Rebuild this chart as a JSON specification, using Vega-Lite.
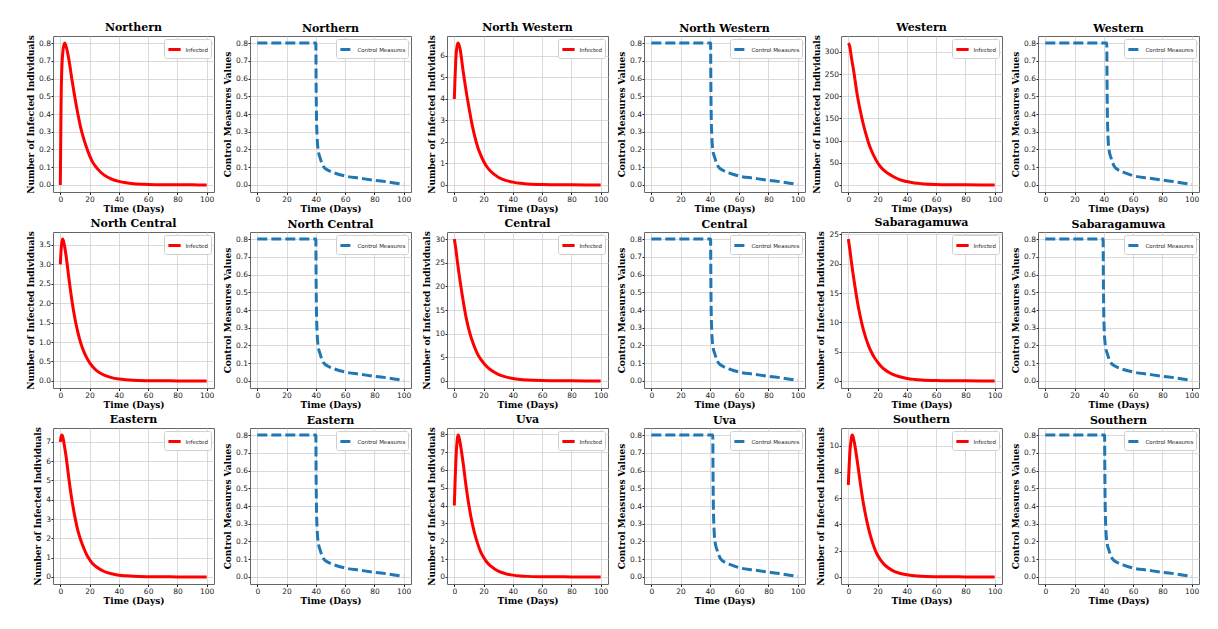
{
"$schema":"https://vega.github.io/schema/vega-lite/v6.json",
"padding":{"left":26,"top":21,"right":5,"bottom":5},
"background":"white",
"datasets":{
"inf":[
{"r":"Northern","t":0,"v":0},{"r":"Northern","t":0.5,"v":0.45},{"r":"Northern","t":1,"v":0.65},{"r":"Northern","t":2,"v":0.77},{"r":"Northern","t":3,"v":0.8},{"r":"Northern","t":4,"v":0.78},{"r":"Northern","t":6,"v":0.7},{"r":"Northern","t":8,"v":0.59},{"r":"Northern","t":10,"v":0.49},{"r":"Northern","t":12,"v":0.4},{"r":"Northern","t":14,"v":0.32},{"r":"Northern","t":16,"v":0.26},{"r":"Northern","t":18,"v":0.21},{"r":"Northern","t":20,"v":0.165},{"r":"Northern","t":22,"v":0.13},{"r":"Northern","t":25,"v":0.095},{"r":"Northern","t":30,"v":0.055},{"r":"Northern","t":35,"v":0.033},{"r":"Northern","t":40,"v":0.02},{"r":"Northern","t":45,"v":0.012},{"r":"Northern","t":50,"v":0.007},{"r":"Northern","t":60,"v":0.003},{"r":"Northern","t":70,"v":0.001},{"r":"Northern","t":80,"v":0.0005},{"r":"Northern","t":90,"v":0.0002},{"r":"Northern","t":100,"v":0.0001},
{"r":"North Western","t":0,"v":4.0},{"r":"North Western","t":0.5,"v":5.0},{"r":"North Western","t":1,"v":5.8},{"r":"North Western","t":2,"v":6.5},{"r":"North Western","t":2.7,"v":6.6},{"r":"North Western","t":4,"v":6.3},{"r":"North Western","t":6,"v":5.3},{"r":"North Western","t":8,"v":4.4},{"r":"North Western","t":10,"v":3.6},{"r":"North Western","t":12,"v":2.85},{"r":"North Western","t":14,"v":2.25},{"r":"North Western","t":16,"v":1.75},{"r":"North Western","t":18,"v":1.4},{"r":"North Western","t":20,"v":1.1},{"r":"North Western","t":22,"v":0.87},{"r":"North Western","t":25,"v":0.62},{"r":"North Western","t":30,"v":0.36},{"r":"North Western","t":35,"v":0.21},{"r":"North Western","t":40,"v":0.13},{"r":"North Western","t":45,"v":0.075},{"r":"North Western","t":50,"v":0.045},{"r":"North Western","t":60,"v":0.015},{"r":"North Western","t":70,"v":0.005},{"r":"North Western","t":80,"v":0.002},{"r":"North Western","t":90,"v":0.0007},{"r":"North Western","t":100,"v":0.0002},
{"r":"Western","t":0,"v":320},{"r":"Western","t":1,"v":312},{"r":"Western","t":2,"v":290},{"r":"Western","t":4,"v":250},{"r":"Western","t":6,"v":205},{"r":"Western","t":8,"v":170},{"r":"Western","t":10,"v":140},{"r":"Western","t":12,"v":115},{"r":"Western","t":14,"v":93},{"r":"Western","t":16,"v":76},{"r":"Western","t":18,"v":62},{"r":"Western","t":20,"v":50},{"r":"Western","t":22,"v":41},{"r":"Western","t":25,"v":31},{"r":"Western","t":30,"v":20},{"r":"Western","t":35,"v":12},{"r":"Western","t":40,"v":7.5},{"r":"Western","t":45,"v":4.5},{"r":"Western","t":50,"v":2.8},{"r":"Western","t":60,"v":1.1},{"r":"Western","t":70,"v":0.4},{"r":"Western","t":80,"v":0.15},{"r":"Western","t":90,"v":0.06},{"r":"Western","t":100,"v":0.02},
{"r":"North Central","t":0,"v":3.0},{"r":"North Central","t":0.5,"v":3.35},{"r":"North Central","t":1,"v":3.55},{"r":"North Central","t":1.5,"v":3.65},{"r":"North Central","t":2,"v":3.62},{"r":"North Central","t":3,"v":3.45},{"r":"North Central","t":4,"v":3.2},{"r":"North Central","t":6,"v":2.6},{"r":"North Central","t":8,"v":2.05},{"r":"North Central","t":10,"v":1.6},{"r":"North Central","t":12,"v":1.25},{"r":"North Central","t":14,"v":0.97},{"r":"North Central","t":16,"v":0.76},{"r":"North Central","t":18,"v":0.6},{"r":"North Central","t":20,"v":0.47},{"r":"North Central","t":22,"v":0.37},{"r":"North Central","t":25,"v":0.26},{"r":"North Central","t":30,"v":0.15},{"r":"North Central","t":35,"v":0.085},{"r":"North Central","t":40,"v":0.05},{"r":"North Central","t":45,"v":0.03},{"r":"North Central","t":50,"v":0.017},{"r":"North Central","t":60,"v":0.006},{"r":"North Central","t":70,"v":0.002},{"r":"North Central","t":80,"v":0.0008},{"r":"North Central","t":90,"v":0.0003},{"r":"North Central","t":100,"v":0.0001},
{"r":"Central","t":0,"v":30},{"r":"Central","t":1,"v":28},{"r":"Central","t":2,"v":25.5},{"r":"Central","t":4,"v":21},{"r":"Central","t":6,"v":17},{"r":"Central","t":8,"v":13.5},{"r":"Central","t":10,"v":10.8},{"r":"Central","t":12,"v":8.7},{"r":"Central","t":14,"v":7},{"r":"Central","t":16,"v":5.6},{"r":"Central","t":18,"v":4.6},{"r":"Central","t":20,"v":3.8},{"r":"Central","t":22,"v":3.1},{"r":"Central","t":25,"v":2.3},{"r":"Central","t":30,"v":1.4},{"r":"Central","t":35,"v":0.85},{"r":"Central","t":40,"v":0.52},{"r":"Central","t":45,"v":0.32},{"r":"Central","t":50,"v":0.2},{"r":"Central","t":60,"v":0.07},{"r":"Central","t":70,"v":0.03},{"r":"Central","t":80,"v":0.01},{"r":"Central","t":90,"v":0.004},{"r":"Central","t":100,"v":0.002},
{"r":"Sabaragamuwa","t":0,"v":24.2},{"r":"Sabaragamuwa","t":1,"v":22.5},{"r":"Sabaragamuwa","t":2,"v":20.5},{"r":"Sabaragamuwa","t":4,"v":17},{"r":"Sabaragamuwa","t":6,"v":13.8},{"r":"Sabaragamuwa","t":8,"v":11.2},{"r":"Sabaragamuwa","t":10,"v":9},{"r":"Sabaragamuwa","t":12,"v":7.3},{"r":"Sabaragamuwa","t":14,"v":5.9},{"r":"Sabaragamuwa","t":16,"v":4.8},{"r":"Sabaragamuwa","t":18,"v":3.9},{"r":"Sabaragamuwa","t":20,"v":3.2},{"r":"Sabaragamuwa","t":22,"v":2.6},{"r":"Sabaragamuwa","t":25,"v":1.9},{"r":"Sabaragamuwa","t":30,"v":1.15},{"r":"Sabaragamuwa","t":35,"v":0.7},{"r":"Sabaragamuwa","t":40,"v":0.42},{"r":"Sabaragamuwa","t":45,"v":0.26},{"r":"Sabaragamuwa","t":50,"v":0.16},{"r":"Sabaragamuwa","t":60,"v":0.06},{"r":"Sabaragamuwa","t":70,"v":0.02},{"r":"Sabaragamuwa","t":80,"v":0.008},{"r":"Sabaragamuwa","t":90,"v":0.003},{"r":"Sabaragamuwa","t":100,"v":0.001},
{"r":"Eastern","t":0,"v":7.0},{"r":"Eastern","t":0.5,"v":7.25},{"r":"Eastern","t":1,"v":7.35},{"r":"Eastern","t":1.5,"v":7.3},{"r":"Eastern","t":2,"v":7.15},{"r":"Eastern","t":3,"v":6.7},{"r":"Eastern","t":4,"v":6.2},{"r":"Eastern","t":6,"v":5.0},{"r":"Eastern","t":8,"v":3.95},{"r":"Eastern","t":10,"v":3.1},{"r":"Eastern","t":12,"v":2.4},{"r":"Eastern","t":14,"v":1.9},{"r":"Eastern","t":16,"v":1.5},{"r":"Eastern","t":18,"v":1.15},{"r":"Eastern","t":20,"v":0.9},{"r":"Eastern","t":22,"v":0.7},{"r":"Eastern","t":25,"v":0.5},{"r":"Eastern","t":30,"v":0.28},{"r":"Eastern","t":35,"v":0.16},{"r":"Eastern","t":40,"v":0.09},{"r":"Eastern","t":45,"v":0.055},{"r":"Eastern","t":50,"v":0.03},{"r":"Eastern","t":60,"v":0.01},{"r":"Eastern","t":70,"v":0.004},{"r":"Eastern","t":80,"v":0.0015},{"r":"Eastern","t":90,"v":0.0005},{"r":"Eastern","t":100,"v":0.0002},
{"r":"Uva","t":0,"v":4.0},{"r":"Uva","t":0.5,"v":5.3},{"r":"Uva","t":1,"v":6.4},{"r":"Uva","t":2,"v":7.7},{"r":"Uva","t":2.5,"v":7.95},{"r":"Uva","t":3,"v":7.9},{"r":"Uva","t":4,"v":7.5},{"r":"Uva","t":6,"v":6.4},{"r":"Uva","t":8,"v":5.1},{"r":"Uva","t":10,"v":4.0},{"r":"Uva","t":12,"v":3.1},{"r":"Uva","t":14,"v":2.4},{"r":"Uva","t":16,"v":1.85},{"r":"Uva","t":18,"v":1.4},{"r":"Uva","t":20,"v":1.1},{"r":"Uva","t":22,"v":0.85},{"r":"Uva","t":25,"v":0.6},{"r":"Uva","t":30,"v":0.32},{"r":"Uva","t":35,"v":0.18},{"r":"Uva","t":40,"v":0.1},{"r":"Uva","t":45,"v":0.055},{"r":"Uva","t":50,"v":0.03},{"r":"Uva","t":60,"v":0.01},{"r":"Uva","t":70,"v":0.004},{"r":"Uva","t":80,"v":0.0015},{"r":"Uva","t":90,"v":0.0005},{"r":"Uva","t":100,"v":0.0002},
{"r":"Southern","t":0,"v":7.0},{"r":"Southern","t":0.5,"v":8.3},{"r":"Southern","t":1,"v":9.4},{"r":"Southern","t":2,"v":10.5},{"r":"Southern","t":2.5,"v":10.8},{"r":"Southern","t":3,"v":10.75},{"r":"Southern","t":4,"v":10.3},{"r":"Southern","t":6,"v":8.9},{"r":"Southern","t":8,"v":7.3},{"r":"Southern","t":10,"v":5.8},{"r":"Southern","t":12,"v":4.6},{"r":"Southern","t":14,"v":3.6},{"r":"Southern","t":16,"v":2.8},{"r":"Southern","t":18,"v":2.15},{"r":"Southern","t":20,"v":1.65},{"r":"Southern","t":22,"v":1.3},{"r":"Southern","t":25,"v":0.9},{"r":"Southern","t":30,"v":0.5},{"r":"Southern","t":35,"v":0.28},{"r":"Southern","t":40,"v":0.16},{"r":"Southern","t":45,"v":0.09},{"r":"Southern","t":50,"v":0.05},{"r":"Southern","t":60,"v":0.017},{"r":"Southern","t":70,"v":0.006},{"r":"Southern","t":80,"v":0.002},{"r":"Southern","t":90,"v":0.0007},{"r":"Southern","t":100,"v":0.0002}
],
"ctl":[
{"r":"Northern","t":0,"v":0.8},{"r":"Northern","t":40,"v":0.8},{"r":"Northern","t":40.15,"v":0.6},{"r":"Northern","t":40.4,"v":0.4},{"r":"Northern","t":40.8,"v":0.28},{"r":"Northern","t":41.5,"v":0.2},{"r":"Northern","t":43,"v":0.15},{"r":"Northern","t":45.5,"v":0.1},{"r":"Northern","t":49,"v":0.08},{"r":"Northern","t":52.5,"v":0.068},{"r":"Northern","t":60,"v":0.05},{"r":"Northern","t":70,"v":0.038},{"r":"Northern","t":80,"v":0.026},{"r":"Northern","t":90,"v":0.016},{"r":"Northern","t":100,"v":0.002},
{"r":"North Western","t":0,"v":0.8},{"r":"North Western","t":40.5,"v":0.8},{"r":"North Western","t":40.65,"v":0.6},{"r":"North Western","t":40.9,"v":0.4},{"r":"North Western","t":41.3,"v":0.28},{"r":"North Western","t":42,"v":0.2},{"r":"North Western","t":43.5,"v":0.15},{"r":"North Western","t":46,"v":0.1},{"r":"North Western","t":49.5,"v":0.08},{"r":"North Western","t":53,"v":0.068},{"r":"North Western","t":60,"v":0.05},{"r":"North Western","t":70,"v":0.038},{"r":"North Western","t":80,"v":0.026},{"r":"North Western","t":90,"v":0.016},{"r":"North Western","t":100,"v":0.002},
{"r":"Western","t":0,"v":0.8},{"r":"Western","t":42,"v":0.8},{"r":"Western","t":42.15,"v":0.6},{"r":"Western","t":42.4,"v":0.4},{"r":"Western","t":42.8,"v":0.28},{"r":"Western","t":43.5,"v":0.2},{"r":"Western","t":45,"v":0.15},{"r":"Western","t":47.5,"v":0.1},{"r":"Western","t":51,"v":0.08},{"r":"Western","t":54.5,"v":0.068},{"r":"Western","t":60,"v":0.052},{"r":"Western","t":70,"v":0.039},{"r":"Western","t":80,"v":0.027},{"r":"Western","t":90,"v":0.016},{"r":"Western","t":100,"v":0.002},
{"r":"North Central","t":0,"v":0.8},{"r":"North Central","t":40,"v":0.8},{"r":"North Central","t":40.15,"v":0.6},{"r":"North Central","t":40.4,"v":0.4},{"r":"North Central","t":40.8,"v":0.28},{"r":"North Central","t":41.5,"v":0.2},{"r":"North Central","t":43,"v":0.15},{"r":"North Central","t":45.5,"v":0.1},{"r":"North Central","t":49,"v":0.08},{"r":"North Central","t":52.5,"v":0.068},{"r":"North Central","t":60,"v":0.05},{"r":"North Central","t":70,"v":0.038},{"r":"North Central","t":80,"v":0.026},{"r":"North Central","t":90,"v":0.016},{"r":"North Central","t":100,"v":0.002},
{"r":"Central","t":0,"v":0.8},{"r":"Central","t":40.5,"v":0.8},{"r":"Central","t":40.65,"v":0.6},{"r":"Central","t":40.9,"v":0.4},{"r":"Central","t":41.3,"v":0.28},{"r":"Central","t":42,"v":0.2},{"r":"Central","t":43.5,"v":0.15},{"r":"Central","t":46,"v":0.1},{"r":"Central","t":49.5,"v":0.08},{"r":"Central","t":53,"v":0.068},{"r":"Central","t":60,"v":0.05},{"r":"Central","t":70,"v":0.038},{"r":"Central","t":80,"v":0.026},{"r":"Central","t":90,"v":0.016},{"r":"Central","t":100,"v":0.002},
{"r":"Sabaragamuwa","t":0,"v":0.8},{"r":"Sabaragamuwa","t":39.5,"v":0.8},{"r":"Sabaragamuwa","t":39.65,"v":0.6},{"r":"Sabaragamuwa","t":39.9,"v":0.4},{"r":"Sabaragamuwa","t":40.3,"v":0.28},{"r":"Sabaragamuwa","t":41,"v":0.2},{"r":"Sabaragamuwa","t":42.5,"v":0.15},{"r":"Sabaragamuwa","t":45,"v":0.1},{"r":"Sabaragamuwa","t":48.5,"v":0.08},{"r":"Sabaragamuwa","t":52,"v":0.068},{"r":"Sabaragamuwa","t":60,"v":0.05},{"r":"Sabaragamuwa","t":70,"v":0.038},{"r":"Sabaragamuwa","t":80,"v":0.026},{"r":"Sabaragamuwa","t":90,"v":0.016},{"r":"Sabaragamuwa","t":100,"v":0.002},
{"r":"Eastern","t":0,"v":0.8},{"r":"Eastern","t":40,"v":0.8},{"r":"Eastern","t":40.15,"v":0.6},{"r":"Eastern","t":40.4,"v":0.4},{"r":"Eastern","t":40.8,"v":0.28},{"r":"Eastern","t":41.5,"v":0.2},{"r":"Eastern","t":43,"v":0.15},{"r":"Eastern","t":45.5,"v":0.1},{"r":"Eastern","t":49,"v":0.08},{"r":"Eastern","t":52.5,"v":0.068},{"r":"Eastern","t":60,"v":0.05},{"r":"Eastern","t":70,"v":0.038},{"r":"Eastern","t":80,"v":0.026},{"r":"Eastern","t":90,"v":0.016},{"r":"Eastern","t":100,"v":0.002},
{"r":"Uva","t":0,"v":0.8},{"r":"Uva","t":42,"v":0.8},{"r":"Uva","t":42.15,"v":0.6},{"r":"Uva","t":42.4,"v":0.4},{"r":"Uva","t":42.8,"v":0.28},{"r":"Uva","t":43.5,"v":0.2},{"r":"Uva","t":45,"v":0.15},{"r":"Uva","t":47.5,"v":0.1},{"r":"Uva","t":51,"v":0.08},{"r":"Uva","t":54.5,"v":0.068},{"r":"Uva","t":60,"v":0.052},{"r":"Uva","t":70,"v":0.039},{"r":"Uva","t":80,"v":0.027},{"r":"Uva","t":90,"v":0.016},{"r":"Uva","t":100,"v":0.002},
{"r":"Southern","t":0,"v":0.8},{"r":"Southern","t":40.5,"v":0.8},{"r":"Southern","t":40.65,"v":0.6},{"r":"Southern","t":40.9,"v":0.4},{"r":"Southern","t":41.3,"v":0.28},{"r":"Southern","t":42,"v":0.2},{"r":"Southern","t":43.5,"v":0.15},{"r":"Southern","t":46,"v":0.1},{"r":"Southern","t":49.5,"v":0.08},{"r":"Southern","t":53,"v":0.068},{"r":"Southern","t":60,"v":0.05},{"r":"Southern","t":70,"v":0.038},{"r":"Southern","t":80,"v":0.026},{"r":"Southern","t":90,"v":0.016},{"r":"Southern","t":100,"v":0.002}
]
},
"columns":6,
"bounds":"flush",
"spacing":{"row":40,"column":36},
"resolve":{"scale":{"x":"independent","y":"independent","color":"independent"},"axis":{"x":"independent","y":"independent"},"legend":{"color":"independent"}},
"concat":[
{"title":"Northern","data":{"name":"inf"},"transform":[{"filter":"datum.r=='Northern'"}],"mark":{"type":"line","strokeWidth":3,"interpolate":"monotone"},
 "encoding":{"x":{"field":"t","type":"quantitative","title":"Time (Days)","scale":{"domain":[-5,105],"nice":false,"zero":false},"axis":{"values":[0,20,40,60,80,100]}},
 "y":{"field":"v","type":"quantitative","title":"Number of Infected Individuals","scale":{"domain":[-0.04,0.84],"nice":false,"zero":false},"axis":{"values":[0,0.1,0.2,0.3,0.4,0.5,0.6,0.7,0.8],"format":".1f"}},
 "color":{"datum":"Infected","type":"nominal","title":null,"scale":{"range":["#ff0000"]}}}},
{"title":"Northern","data":{"name":"ctl"},"transform":[{"filter":"datum.r=='Northern'"}],"mark":{"type":"line","strokeWidth":3,"strokeDash":[10,4],"interpolate":"monotone"},
 "encoding":{"x":{"field":"t","type":"quantitative","title":"Time (Days)","scale":{"domain":[-5,105],"nice":false,"zero":false},"axis":{"values":[0,20,40,60,80,100]}},
 "y":{"field":"v","type":"quantitative","title":"Control Measures Values","scale":{"domain":[-0.04,0.84],"nice":false,"zero":false},"axis":{"values":[0,0.1,0.2,0.3,0.4,0.5,0.6,0.7,0.8],"format":".1f"}},
 "color":{"datum":"Control Measures","type":"nominal","title":null,"scale":{"range":["#1f77b4"]},"legend":{"symbolDash":[10,4]}}}},
{"title":"North Western","data":{"name":"inf"},"transform":[{"filter":"datum.r=='North Western'"}],"mark":{"type":"line","strokeWidth":3,"interpolate":"monotone"},
 "encoding":{"x":{"field":"t","type":"quantitative","title":"Time (Days)","scale":{"domain":[-5,105],"nice":false,"zero":false},"axis":{"values":[0,20,40,60,80,100]}},
 "y":{"field":"v","type":"quantitative","title":"Number of Infected Individuals","scale":{"domain":[-0.33,6.93],"nice":false,"zero":false},"axis":{"values":[0,1,2,3,4,5,6]}},
 "color":{"datum":"Infected","type":"nominal","title":null,"scale":{"range":["#ff0000"]}}}},
{"title":"North Western","data":{"name":"ctl"},"transform":[{"filter":"datum.r=='North Western'"}],"mark":{"type":"line","strokeWidth":3,"strokeDash":[10,4],"interpolate":"monotone"},
 "encoding":{"x":{"field":"t","type":"quantitative","title":"Time (Days)","scale":{"domain":[-5,105],"nice":false,"zero":false},"axis":{"values":[0,20,40,60,80,100]}},
 "y":{"field":"v","type":"quantitative","title":"Control Measures Values","scale":{"domain":[-0.04,0.84],"nice":false,"zero":false},"axis":{"values":[0,0.1,0.2,0.3,0.4,0.5,0.6,0.7,0.8],"format":".1f"}},
 "color":{"datum":"Control Measures","type":"nominal","title":null,"scale":{"range":["#1f77b4"]},"legend":{"symbolDash":[10,4]}}}},
{"title":"Western","data":{"name":"inf"},"transform":[{"filter":"datum.r=='Western'"}],"mark":{"type":"line","strokeWidth":3,"interpolate":"monotone"},
 "encoding":{"x":{"field":"t","type":"quantitative","title":"Time (Days)","scale":{"domain":[-5,105],"nice":false,"zero":false},"axis":{"values":[0,20,40,60,80,100]}},
 "y":{"field":"v","type":"quantitative","title":"Number of Infected Individuals","scale":{"domain":[-16,336],"nice":false,"zero":false},"axis":{"values":[0,50,100,150,200,250,300]}},
 "color":{"datum":"Infected","type":"nominal","title":null,"scale":{"range":["#ff0000"]}}}},
{"title":"Western","data":{"name":"ctl"},"transform":[{"filter":"datum.r=='Western'"}],"mark":{"type":"line","strokeWidth":3,"strokeDash":[10,4],"interpolate":"monotone"},
 "encoding":{"x":{"field":"t","type":"quantitative","title":"Time (Days)","scale":{"domain":[-5,105],"nice":false,"zero":false},"axis":{"values":[0,20,40,60,80,100]}},
 "y":{"field":"v","type":"quantitative","title":"Control Measures Values","scale":{"domain":[-0.04,0.84],"nice":false,"zero":false},"axis":{"values":[0,0.1,0.2,0.3,0.4,0.5,0.6,0.7,0.8],"format":".1f"}},
 "color":{"datum":"Control Measures","type":"nominal","title":null,"scale":{"range":["#1f77b4"]},"legend":{"symbolDash":[10,4]}}}},
{"title":"North Central","data":{"name":"inf"},"transform":[{"filter":"datum.r=='North Central'"}],"mark":{"type":"line","strokeWidth":3,"interpolate":"monotone"},
 "encoding":{"x":{"field":"t","type":"quantitative","title":"Time (Days)","scale":{"domain":[-5,105],"nice":false,"zero":false},"axis":{"values":[0,20,40,60,80,100]}},
 "y":{"field":"v","type":"quantitative","title":"Number of Infected Individuals","scale":{"domain":[-0.1825,3.8325],"nice":false,"zero":false},"axis":{"values":[0,0.5,1,1.5,2,2.5,3,3.5],"format":".1f"}},
 "color":{"datum":"Infected","type":"nominal","title":null,"scale":{"range":["#ff0000"]}}}},
{"title":"North Central","data":{"name":"ctl"},"transform":[{"filter":"datum.r=='North Central'"}],"mark":{"type":"line","strokeWidth":3,"strokeDash":[10,4],"interpolate":"monotone"},
 "encoding":{"x":{"field":"t","type":"quantitative","title":"Time (Days)","scale":{"domain":[-5,105],"nice":false,"zero":false},"axis":{"values":[0,20,40,60,80,100]}},
 "y":{"field":"v","type":"quantitative","title":"Control Measures Values","scale":{"domain":[-0.04,0.84],"nice":false,"zero":false},"axis":{"values":[0,0.1,0.2,0.3,0.4,0.5,0.6,0.7,0.8],"format":".1f"}},
 "color":{"datum":"Control Measures","type":"nominal","title":null,"scale":{"range":["#1f77b4"]},"legend":{"symbolDash":[10,4]}}}},
{"title":"Central","data":{"name":"inf"},"transform":[{"filter":"datum.r=='Central'"}],"mark":{"type":"line","strokeWidth":3,"interpolate":"monotone"},
 "encoding":{"x":{"field":"t","type":"quantitative","title":"Time (Days)","scale":{"domain":[-5,105],"nice":false,"zero":false},"axis":{"values":[0,20,40,60,80,100]}},
 "y":{"field":"v","type":"quantitative","title":"Number of Infected Individuals","scale":{"domain":[-1.5,31.5],"nice":false,"zero":false},"axis":{"values":[0,5,10,15,20,25,30]}},
 "color":{"datum":"Infected","type":"nominal","title":null,"scale":{"range":["#ff0000"]}}}},
{"title":"Central","data":{"name":"ctl"},"transform":[{"filter":"datum.r=='Central'"}],"mark":{"type":"line","strokeWidth":3,"strokeDash":[10,4],"interpolate":"monotone"},
 "encoding":{"x":{"field":"t","type":"quantitative","title":"Time (Days)","scale":{"domain":[-5,105],"nice":false,"zero":false},"axis":{"values":[0,20,40,60,80,100]}},
 "y":{"field":"v","type":"quantitative","title":"Control Measures Values","scale":{"domain":[-0.04,0.84],"nice":false,"zero":false},"axis":{"values":[0,0.1,0.2,0.3,0.4,0.5,0.6,0.7,0.8],"format":".1f"}},
 "color":{"datum":"Control Measures","type":"nominal","title":null,"scale":{"range":["#1f77b4"]},"legend":{"symbolDash":[10,4]}}}},
{"title":"Sabaragamuwa","data":{"name":"inf"},"transform":[{"filter":"datum.r=='Sabaragamuwa'"}],"mark":{"type":"line","strokeWidth":3,"interpolate":"monotone"},
 "encoding":{"x":{"field":"t","type":"quantitative","title":"Time (Days)","scale":{"domain":[-5,105],"nice":false,"zero":false},"axis":{"values":[0,20,40,60,80,100]}},
 "y":{"field":"v","type":"quantitative","title":"Number of Infected Individuals","scale":{"domain":[-1.21,25.41],"nice":false,"zero":false},"axis":{"values":[0,5,10,15,20,25]}},
 "color":{"datum":"Infected","type":"nominal","title":null,"scale":{"range":["#ff0000"]}}}},
{"title":"Sabaragamuwa","data":{"name":"ctl"},"transform":[{"filter":"datum.r=='Sabaragamuwa'"}],"mark":{"type":"line","strokeWidth":3,"strokeDash":[10,4],"interpolate":"monotone"},
 "encoding":{"x":{"field":"t","type":"quantitative","title":"Time (Days)","scale":{"domain":[-5,105],"nice":false,"zero":false},"axis":{"values":[0,20,40,60,80,100]}},
 "y":{"field":"v","type":"quantitative","title":"Control Measures Values","scale":{"domain":[-0.04,0.84],"nice":false,"zero":false},"axis":{"values":[0,0.1,0.2,0.3,0.4,0.5,0.6,0.7,0.8],"format":".1f"}},
 "color":{"datum":"Control Measures","type":"nominal","title":null,"scale":{"range":["#1f77b4"]},"legend":{"symbolDash":[10,4]}}}},
{"title":"Eastern","data":{"name":"inf"},"transform":[{"filter":"datum.r=='Eastern'"}],"mark":{"type":"line","strokeWidth":3,"interpolate":"monotone"},
 "encoding":{"x":{"field":"t","type":"quantitative","title":"Time (Days)","scale":{"domain":[-5,105],"nice":false,"zero":false},"axis":{"values":[0,20,40,60,80,100]}},
 "y":{"field":"v","type":"quantitative","title":"Number of Infected Individuals","scale":{"domain":[-0.3675,7.7175],"nice":false,"zero":false},"axis":{"values":[0,1,2,3,4,5,6,7]}},
 "color":{"datum":"Infected","type":"nominal","title":null,"scale":{"range":["#ff0000"]}}}},
{"title":"Eastern","data":{"name":"ctl"},"transform":[{"filter":"datum.r=='Eastern'"}],"mark":{"type":"line","strokeWidth":3,"strokeDash":[10,4],"interpolate":"monotone"},
 "encoding":{"x":{"field":"t","type":"quantitative","title":"Time (Days)","scale":{"domain":[-5,105],"nice":false,"zero":false},"axis":{"values":[0,20,40,60,80,100]}},
 "y":{"field":"v","type":"quantitative","title":"Control Measures Values","scale":{"domain":[-0.04,0.84],"nice":false,"zero":false},"axis":{"values":[0,0.1,0.2,0.3,0.4,0.5,0.6,0.7,0.8],"format":".1f"}},
 "color":{"datum":"Control Measures","type":"nominal","title":null,"scale":{"range":["#1f77b4"]},"legend":{"symbolDash":[10,4]}}}},
{"title":"Uva","data":{"name":"inf"},"transform":[{"filter":"datum.r=='Uva'"}],"mark":{"type":"line","strokeWidth":3,"interpolate":"monotone"},
 "encoding":{"x":{"field":"t","type":"quantitative","title":"Time (Days)","scale":{"domain":[-5,105],"nice":false,"zero":false},"axis":{"values":[0,20,40,60,80,100]}},
 "y":{"field":"v","type":"quantitative","title":"Number of Infected Individuals","scale":{"domain":[-0.3975,8.3475],"nice":false,"zero":false},"axis":{"values":[0,1,2,3,4,5,6,7,8]}},
 "color":{"datum":"Infected","type":"nominal","title":null,"scale":{"range":["#ff0000"]}}}},
{"title":"Uva","data":{"name":"ctl"},"transform":[{"filter":"datum.r=='Uva'"}],"mark":{"type":"line","strokeWidth":3,"strokeDash":[10,4],"interpolate":"monotone"},
 "encoding":{"x":{"field":"t","type":"quantitative","title":"Time (Days)","scale":{"domain":[-5,105],"nice":false,"zero":false},"axis":{"values":[0,20,40,60,80,100]}},
 "y":{"field":"v","type":"quantitative","title":"Control Measures Values","scale":{"domain":[-0.04,0.84],"nice":false,"zero":false},"axis":{"values":[0,0.1,0.2,0.3,0.4,0.5,0.6,0.7,0.8],"format":".1f"}},
 "color":{"datum":"Control Measures","type":"nominal","title":null,"scale":{"range":["#1f77b4"]},"legend":{"symbolDash":[10,4]}}}},
{"title":"Southern","data":{"name":"inf"},"transform":[{"filter":"datum.r=='Southern'"}],"mark":{"type":"line","strokeWidth":3,"interpolate":"monotone"},
 "encoding":{"x":{"field":"t","type":"quantitative","title":"Time (Days)","scale":{"domain":[-5,105],"nice":false,"zero":false},"axis":{"values":[0,20,40,60,80,100]}},
 "y":{"field":"v","type":"quantitative","title":"Number of Infected Individuals","scale":{"domain":[-0.54,11.34],"nice":false,"zero":false},"axis":{"values":[0,2,4,6,8,10]}},
 "color":{"datum":"Infected","type":"nominal","title":null,"scale":{"range":["#ff0000"]}}}},
{"title":"Southern","data":{"name":"ctl"},"transform":[{"filter":"datum.r=='Southern'"}],"mark":{"type":"line","strokeWidth":3,"strokeDash":[10,4],"interpolate":"monotone"},
 "encoding":{"x":{"field":"t","type":"quantitative","title":"Time (Days)","scale":{"domain":[-5,105],"nice":false,"zero":false},"axis":{"values":[0,20,40,60,80,100]}},
 "y":{"field":"v","type":"quantitative","title":"Control Measures Values","scale":{"domain":[-0.04,0.84],"nice":false,"zero":false},"axis":{"values":[0,0.1,0.2,0.3,0.4,0.5,0.6,0.7,0.8],"format":".1f"}},
 "color":{"datum":"Control Measures","type":"nominal","title":null,"scale":{"range":["#1f77b4"]},"legend":{"symbolDash":[10,4]}}}}
],
"config":{
 "font":"DejaVu Sans",
 "view":{"continuousWidth":161,"continuousHeight":156,"stroke":"#666666","strokeWidth":1},
 "axis":{"domain":false,"grid":true,"gridColor":"#d0d0d0","gridWidth":0.8,"tickSize":2.5,"tickColor":"#222222","labelFont":"DejaVu Sans","labelFontSize":7.5,"labelColor":"#222222","labelPadding":1,"labelOverlap":false,"labelFlush":false,"titleFont":"DejaVu Serif","titleFontWeight":"bold","titleFontSize":9,"titleColor":"#000000","titlePadding":3},
 "axisX":{"titlePadding":1},
 "axisY":{"tickSize":2,"labelPadding":0.5},
 "title":{"font":"DejaVu Serif","fontWeight":"bold","fontSize":11,"offset":2,"color":"#000000"},
 "legend":{"orient":"top-right","offset":3,"padding":2.5,"labelFont":"DejaVu Sans","labelFontSize":5.5,"labelColor":"#222222","symbolType":"stroke","symbolSize":150,"symbolStrokeWidth":3,"strokeColor":"#d0d0d0","fillColor":"#ffffff","cornerRadius":2,"labelOffset":3}
}
}
